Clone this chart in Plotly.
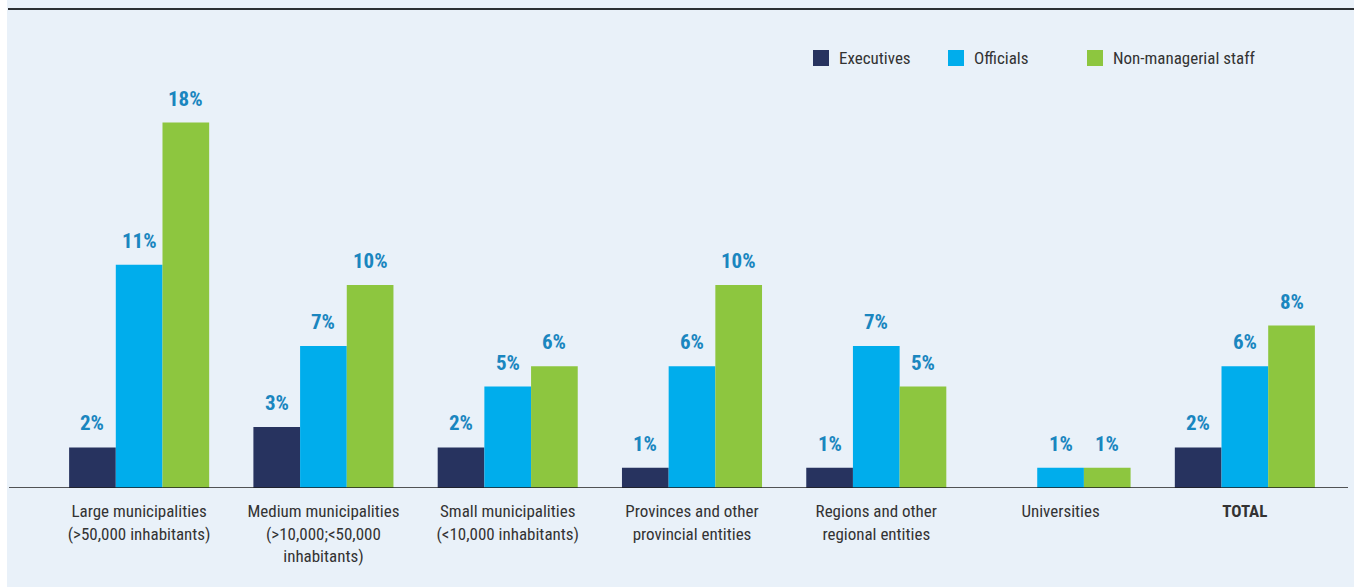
import plotly.graph_objects as go

# Categories and tick labels
categories = ["Large", "Medium", "Small", "Provinces", "Regions", "Universities", "TOTAL"]
tick_labels = [
    "Large municipalities<br>(&gt;50,000 inhabitants)",
    "Medium municipalities<br>(&gt;10,000;&lt;50,000<br>inhabitants)",
    "Small municipalities<br>(&lt;10,000 inhabitants)",
    "Provinces and other<br>provincial entities",
    "Regions and other<br>regional entities",
    "Universities",
    "<b>TOTAL</b>",
]

# Share of staff (%) by role
executives = [2, 3, 2, 1, 1, 0, 2]
officials = [11, 7, 5, 6, 7, 1, 6]
non_managerial = [18, 10, 6, 10, 5, 1, 8]

series_names = ["Executives", "Officials", "Non-managerial staff"]
series_values = [executives, officials, non_managerial]
series_colors = ["#27335F", "#00ADEC", "#8DC63F"]

FONT = "Liberation Sans Narrow, Roboto Condensed, DejaVu Sans Condensed, Roboto, sans-serif"
BG = "#E9F1F9"
LABEL_BLUE = "#1A86BF"
TEXT = "#333333"

# plot area geometry (px)
W, H = 1354, 587
ML, MR, MT, MB = 47, 17, 9, 99
PW, PH = W - ML - MR, H - MT - MB


def px_x(x):
    return (x - ML) / PW


def px_y(y):
    return (H - MB - y) / PH


fig = go.Figure()
for name, vals, col in zip(series_names, series_values, series_colors):
    fig.add_trace(go.Bar(
        x=categories, y=vals, name=name, marker=dict(color=col, line=dict(width=0)),
        showlegend=False, hoverinfo="y+name",
    ))

bargap = 0.24
bar_w = (1 - bargap) / 3
annotations = []
for k, vals in enumerate(series_values):
    for i, v in enumerate(vals):
        if v == 0:
            continue
        annotations.append(dict(
            x=i + (k - 1) * bar_w, y=v, xref="x", yref="y",
            text=f"<b>{v}%</b>", showarrow=False, yanchor="bottom", yshift=10,
            font=dict(family=FONT, size=21, color=LABEL_BLUE),
        ))

shapes = [
    # panel background
    dict(type="rect", xref="paper", yref="paper", x0=px_x(7), x1=px_x(W + 5), y0=px_y(H + 5), y1=px_y(-5),
         fillcolor=BG, line=dict(width=0), layer="below"),
    # top rule
    dict(type="line", xref="paper", yref="paper", x0=px_x(8), x1=px_x(W + 5), y0=1, y1=1,
         line=dict(color="#2B2F33", width=2)),
    # baseline
    dict(type="line", xref="paper", yref="y", x0=px_x(9), x1=px_x(1348), y0=0, y1=0,
         line=dict(color="#1E1E1E", width=1.5), layer="above"),
]

# legend: square swatches with labels
legend_x = [813, 948, 1087]
for name, col, lx in zip(series_names, series_colors, legend_x):
    shapes.append(dict(
        type="rect", xref="paper", yref="paper",
        x0=px_x(lx), x1=px_x(lx + 16), y0=px_y(66), y1=px_y(50),
        fillcolor=col, line=dict(width=0),
    ))
    annotations.append(dict(
        x=px_x(lx + 24), y=px_y(58), xref="paper", yref="paper", text=name,
        showarrow=False, xanchor="left", yanchor="middle",
        font=dict(family=FONT, size=17, color=TEXT),
    ))

fig.update_layout(
    width=W, height=H,
    margin=dict(l=ML, r=MR, t=MT, b=MB, pad=0),
    paper_bgcolor="white", plot_bgcolor="rgba(0,0,0,0)",
    barmode="group", bargap=bargap, bargroupgap=0,
    font=dict(family=FONT, size=17, color=TEXT),
    showlegend=False,
    xaxis=dict(
        tickvals=categories, ticktext=tick_labels, showgrid=False, zeroline=False,
        showline=False, ticks="outside", ticklen=8, tickcolor="rgba(0,0,0,0)",
        tickfont=dict(family=FONT, size=17, color=TEXT),
        range=[-0.5, 6.5],
    ),
    yaxis=dict(range=[0, PH / 20.3], visible=False, showgrid=False, zeroline=False),
    annotations=annotations,
    shapes=shapes,
)

fig.write_html("out.html")
